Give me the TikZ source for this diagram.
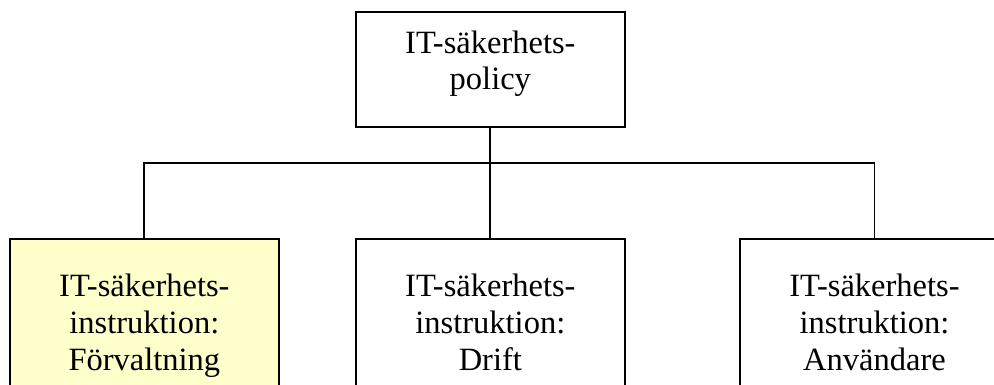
\documentclass[tikz,border=0pt]{standalone}
\usepackage{fontspec}
\setmainfont{Liberation Serif}
\usepackage{xcolor}
\usepackage{tikz}
\definecolor{paleyellow}{RGB}{255,255,204}
\tikzset{
    tnode/.style = {align=center, inner sep=0pt, text centered, font=\fontsize{32.5}{36.7}\selectfont},
    policybox/.style = {tnode, rectangle, draw=black, line width=2pt, minimum width=269pt, text height=78pt, text depth=36.7pt},
    instbox/.style = {tnode, rectangle, draw=black, line width=2pt, minimum width=269pt, text height=131pt, text depth=56.7pt},
    marked/.style = {fill=paleyellow}
}

\begin{document}
\begin{tikzpicture}
            [-, x=1pt, y=-1pt, line width=1.8pt]

            \useasboundingbox (0,0) rectangle (994,385);
            \clip (0,0) rectangle (994,385);

            \node [policybox] (policy) at (490.35,69.35) {IT-säkerhets-\\policy};

            \node [instbox, marked] (forv) at (144.35,332.85) {IT-säkerhets-\\instruktion:\\Förvaltning};
            \node [instbox] (drift) at (490.35,332.85) {IT-säkerhets-\\instruktion:\\Drift};
            \node [instbox] (anv) at (874.5,332.85) {IT-säkerhets-\\instruktion:\\Användare};

            \coordinate (bus) at (490.35,163.3);
            \draw (policy.south) -- (drift.north);
            \draw (forv.north) |- (bus) -| (anv.north);
        \end{tikzpicture}
\end{document}
